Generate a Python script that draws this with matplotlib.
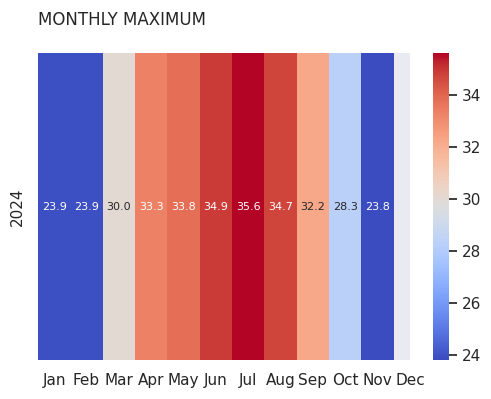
import numpy as np
import pandas as pd
import matplotlib
matplotlib.use("Agg")
import matplotlib.pyplot as plt
import seaborn as sns

sns.set_theme()

months = ["Jan", "Feb", "Mar", "Apr", "May", "Jun", "Jul", "Aug", "Sep", "Oct", "Nov", "Dec"]
years = ["2024"]
values_2024 = [23.9, 23.9, 30.0, 33.3, 33.8, 34.9, 35.6, 34.7, 32.2, 28.3, 23.8, np.nan]

df = pd.DataFrame([values_2024], index=years, columns=months)

fig = plt.figure(figsize=(4.91, 3.99), dpi=100)
ax = fig.add_axes([38/491, 1 - 360/399, (410-38)/491, (360-53)/399])
cax = fig.add_axes([433/491, 1 - 360/399, (449-433)/491, (360-53)/399])
sns.heatmap(df, ax=ax, cbar_ax=cax, cmap="coolwarm", annot=True, fmt=".1f",
            annot_kws={"size": 8})
ax.grid(False)
ax.set_xlim(0, len(months) - 0.5)
ax.set_title("MONTHLY MAXIMUM", loc="left", fontsize=12, pad=20)
ax.set_xlabel("")
ax.set_ylabel("")
ax.tick_params(axis="x", rotation=0)
ax.tick_params(axis="y", rotation=90)
fig.savefig("out.png", dpi=100)
